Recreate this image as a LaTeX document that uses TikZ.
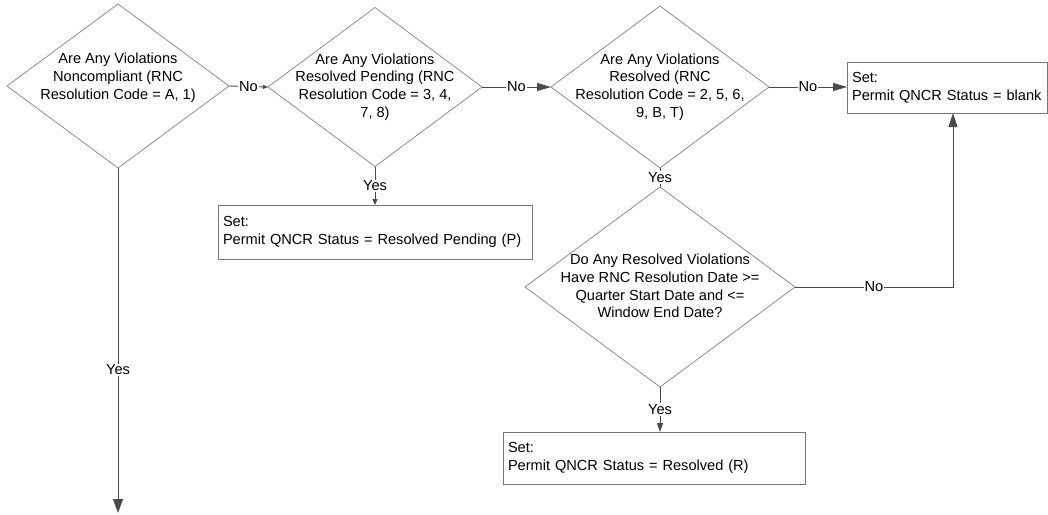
\documentclass[tikz,border=0pt]{standalone}
\usepackage{fontspec}
\setmainfont{Liberation Sans}
\usetikzlibrary{shapes.geometric,arrows.meta}
\definecolor{dgray}{HTML}{8C8C8C}
\definecolor{bgray}{HTML}{767676}
\definecolor{cgray}{HTML}{4A4A4A}
\newcommand{\fsz}{\fontsize{14.6}{17.8}\selectfont}
\begin{document}
\begin{tikzpicture}[x=1pt,y=-1pt,
  dec/.style={draw=dgray, shape=diamond, inner sep=0pt, outer sep=0pt, line width=0.8pt},
  txt/.style={align=center, font=\fsz, inner sep=0pt},
  setbox/.style={draw=bgray, line width=0.9pt, anchor=north west, align=left, font=\fsz,
     inner xsep=5pt, inner ysep=0pt, outer sep=0pt},
  lbl/.style={fill=white, inner sep=1pt, font=\fsz},
  conn/.style={draw=cgray, line width=0.9pt}]
\useasboundingbox (0,0) rectangle (1048,514);

% decisions
\node[dec, minimum width=222pt, minimum height=164pt] (d1) at (118,86) {};
\node[txt] (t1) at (118,78) {Are Any Violations\\Noncompliant (RNC\\Resolution Code = A, 1)};

\node[dec, minimum width=214pt, minimum height=159pt] (d2) at (375,87) {};
\node[txt] (t2) at (375,87) {Are Any Violations\\Resolved Pending (RNC\\Resolution Code = 3, 4,\\7, 8)};

\node[dec, minimum width=218pt, minimum height=162pt] (d3) at (660,87) {};
\node[txt] (t3) at (660,87) {Are Any Violations\\Resolved (RNC\\Resolution Code = 2, 5, 6,\\9, B, T)};

\node[dec, minimum width=270pt, minimum height=200pt] (d4) at (660,287) {};
\node[txt] (t4) at (660,286) {Do Any Resolved Violations\\Have RNC Resolution Date >=\\Quarter Start Date and <=\\Window End Date?};

% set boxes
\node[setbox, minimum height=51pt, text width=190pt] (b1) at (847,62) {Set:\\Permit QNCR Status = blank};
\node[setbox, minimum height=54pt, text width=304pt] (b2) at (218,205) {Set:\\Permit QNCR Status = Resolved Pending (P)};
\node[setbox, minimum height=52pt, text width=292pt] (b3) at (503,432) {Set:\\Permit QNCR Status = Resolved (R)};

\coordinate (c4) at (953,287);
\coordinate (cend) at (118,513);

% connectors
\draw[conn, -{Triangle[length=5pt,width=4pt]}] (d1.east) -- node[lbl]{No} (d2.west);
\draw[conn, -{Triangle[length=6pt,width=5pt]}] (d2.south) -- node[lbl]{Yes} (b2.north);
\draw[conn, -{Triangle[length=14pt,width=8pt]}] (d2.east) -- node[lbl]{No} (d3.west);
\draw[conn] (d3.south) -- node[lbl]{Yes} (d4.north);
\draw[conn, -{Triangle[length=14pt,width=8pt]}] (d3.east) -- node[lbl]{No} (d3.east -| b1.west);
\draw[conn, -{Triangle[length=14pt,width=9pt]}] (d4.east) -- node[lbl]{No} (c4) -- (c4 |- b1.south);
\draw[conn, -{Triangle[length=9pt,width=6pt]}] (d4.south) -- node[lbl]{Yes} (d4.south |- b3.north);
\draw[conn, -{Triangle[length=14pt,width=10pt]}] (d1.south) -- node[lbl, pos=0.585]{Yes} (cend);
\end{tikzpicture}
\end{document}
